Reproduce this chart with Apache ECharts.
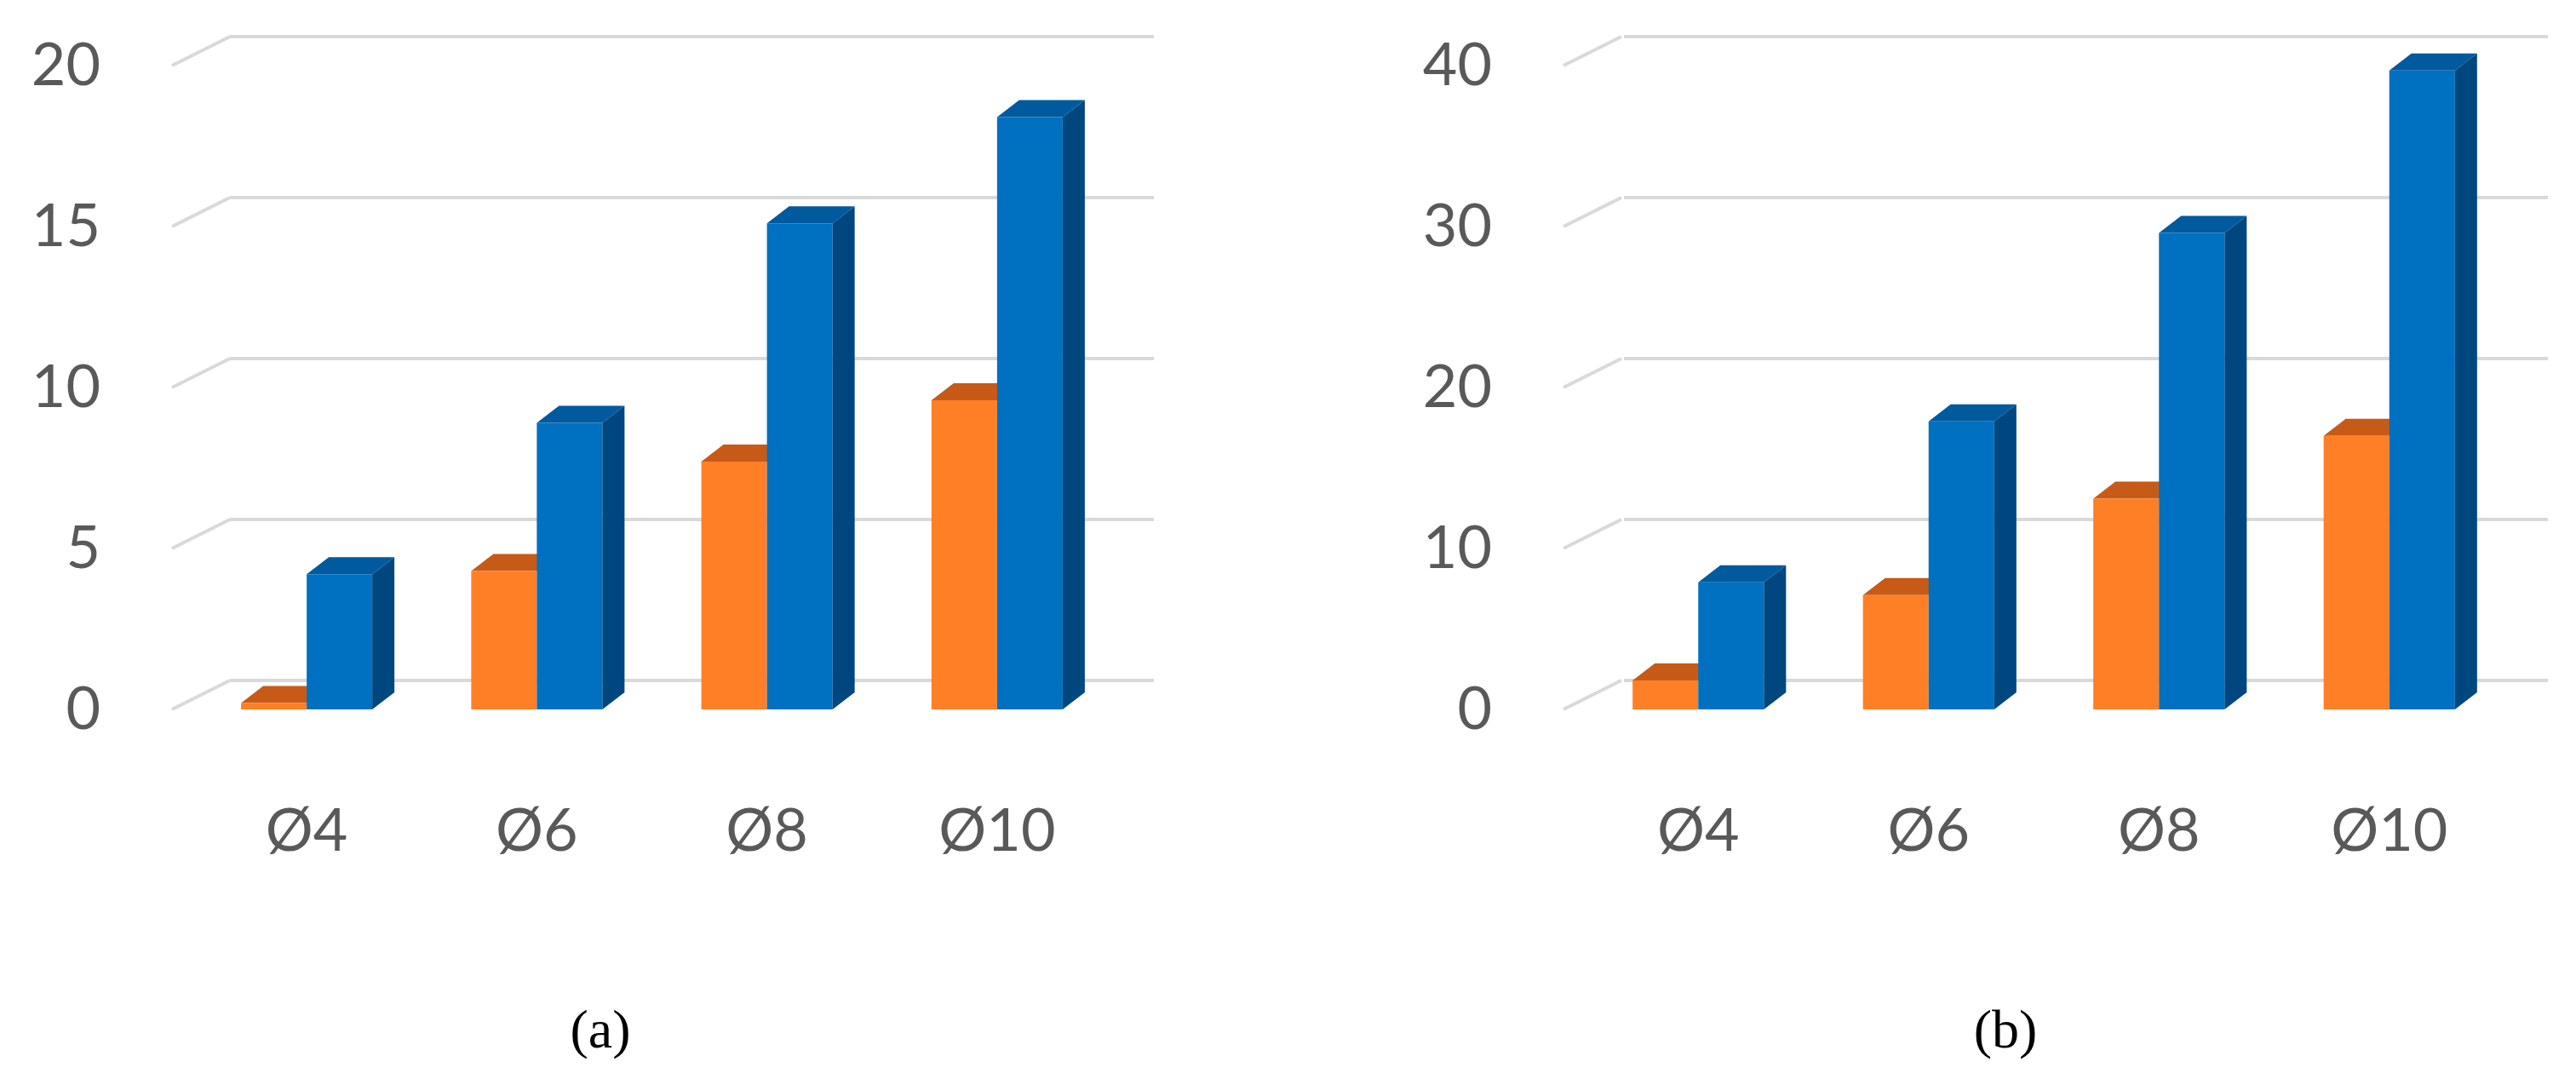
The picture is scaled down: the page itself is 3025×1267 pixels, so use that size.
<!DOCTYPE html>
<html><head><meta charset="utf-8">
<script src="https://cdn.jsdelivr.net/npm/echarts@6/dist/echarts.min.js"></script>
<style>html,body{margin:0;padding:0;background:#fff}#c{width:3025px;height:1267px}</style>
</head><body><div id="c"></div>
<script>
const categories = ['Ø4','Ø6','Ø8','Ø10'];
const aOrange = [0.2, 4.3, 7.7, 9.6];
const aBlue = [4.2, 8.9, 15.1, 18.4];
const bOrange = [1.8, 7.1, 13.1, 17.0];
const bBlue = [7.9, 17.9, 29.6, 39.7];
const aTicks = [0,5,10,15,20];
const bTicks = [0,10,20,30,40];

const chart = echarts.init(document.getElementById('c'));
const DX = 26, DY = 20, GX = 68, GY = 34;
const COL = {
  o: {front:'#FF7F27', top:'#C85A17', side:'#B04E12'},
  b: {front:'#0070C0', top:'#005A9E', side:'#00477F'}
};
function barRender(kind){
  return function(params, api){
    const i = api.value(0), v = api.value(1);
    const base = api.coord([i, 0]);
    const top = api.coord([i, v]);
    const band = api.size([1,0])[0];
    const w = band*0.285;
    const x0 = kind==='o' ? base[0]-w : base[0];
    const x1 = x0 + w;
    const c = COL[kind];
    const children = [
      {type:'polygon', shape:{points:[[x0,top[1]],[x0+DX,top[1]-DY],[x1+DX,top[1]-DY],[x1,top[1]]]}, style:{fill:c.top}},
      {type:'rect', shape:{x:x0,y:top[1],width:w,height:base[1]-top[1]}, style:{fill:c.front}}
    ];
    if(kind==='b') children.push({type:'polygon', shape:{points:[[x1,top[1]],[x1+DX,top[1]-DY],[x1+DX,base[1]-DY],[x1,base[1]]]}, style:{fill:c.side}});
    return {type:'group', children};
  };
}
function stubRender(params, api){
  const v = api.value(0);
  const p = api.coord([0, v]);
  const x = params.coordSys.x;
  return {type:'line', shape:{x1:x-23,y1:p[1],x2:x+45,y2:p[1]-GY}, style:{stroke:'#D9D9D9',lineWidth:4}};
}
const font = {fontFamily:'Lato', fontSize:70, color:'#595959'};
function panel(idx, left, right, gLeft, gRight, ticks, oData, bData){
  const max = ticks[ticks.length-1], iv = ticks[1]-ticks[0];
  return {
    grids:[
      {left:left, width:right-left, top:77, bottom:1267-833},
      {left:gLeft, width:gRight-gLeft, top:77-GY, bottom:1267-833+GY}
    ],
    xAxes:[
      {gridIndex:idx*2, type:'category', data:categories, axisLine:{show:false}, axisTick:{show:false}, axisLabel:Object.assign({margin:108, align:'center'}, font)},
      {gridIndex:idx*2+1, type:'category', data:categories, show:false}
    ],
    yAxes:[
      {gridIndex:idx*2, type:'value', min:0, max:max, interval:iv, splitLine:{show:false}, axisLine:{show:false}, axisTick:{show:false}, axisLabel:Object.assign({margin:107}, font)},
      {gridIndex:idx*2+1, type:'value', min:0, max:max, interval:iv, axisLabel:{show:false}, axisLine:{show:false}, axisTick:{show:false}, splitLine:{lineStyle:{color:'#D9D9D9', width:4}}}
    ],
    series:[
      {type:'custom', xAxisIndex:idx*2, yAxisIndex:idx*2, data:ticks.map(t=>[t]), renderItem:stubRender, silent:true},
      {type:'custom', xAxisIndex:idx*2, yAxisIndex:idx*2, data:oData.map((v,i)=>[i,v]), renderItem:barRender('o'), z:3},
      {type:'custom', xAxisIndex:idx*2, yAxisIndex:idx*2, data:bData.map((v,i)=>[i,v]), renderItem:barRender('b'), z:4}
    ]
  };
}
const pa = panel(0, 225, 1306, 270, 1355, aTicks, aOrange, aBlue);
const pb = panel(1, 1859, 2941, 1907, 2992, bTicks, bOrange, bBlue);
chart.setOption({
  animation:false,
  grid: pa.grids.concat(pb.grids),
  xAxis: pa.xAxes.concat(pb.xAxes),
  yAxis: pa.yAxes.concat(pb.yAxes),
  series: pa.series.concat(pb.series),
  title:[
    {text:'(a)', left:700, top:1176, textAlign:'center', textStyle:{fontFamily:'Liberation Serif', fontSize:64, fontWeight:'normal', color:'#000', rich:{}}},
    {text:'(b)', left:2350, top:1176, textAlign:'center', textStyle:{fontFamily:'Liberation Serif', fontSize:64, fontWeight:'normal', color:'#000'}}
  ]
});
</script></body></html>
